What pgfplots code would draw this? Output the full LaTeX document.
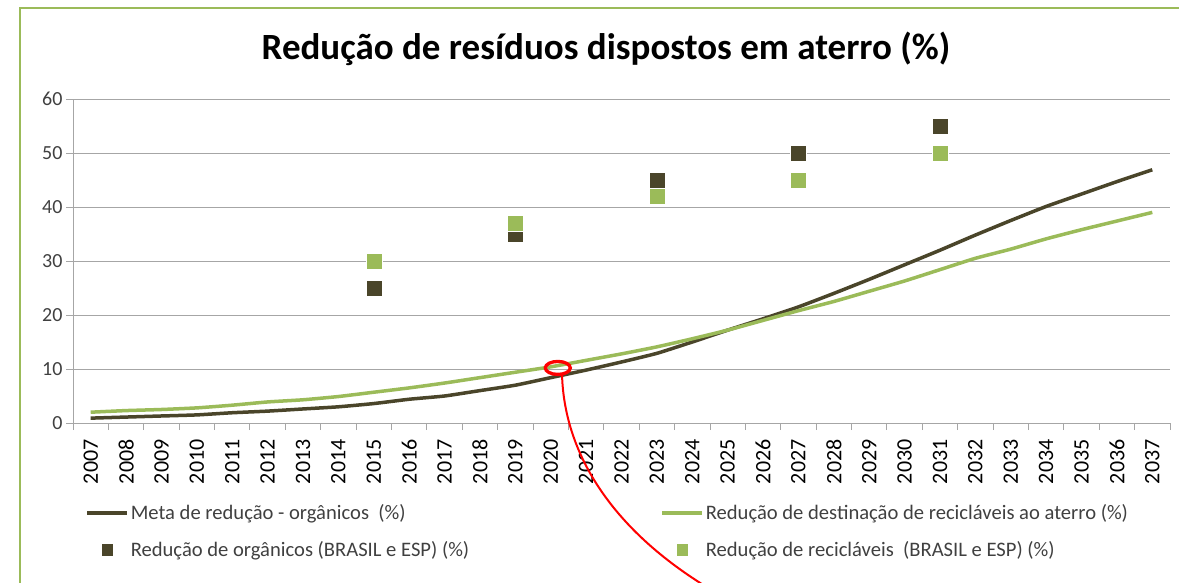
\documentclass[border=0pt]{standalone}
\usepackage{pgfplots}
\pgfplotsset{compat=1.18}
\usepackage{fontspec}
\setmainfont{Carlito}
\definecolor{darkol}{HTML}{4A452A}
\definecolor{olgreen}{HTML}{9BBB59}
\definecolor{gridgray}{HTML}{A6A6A6}
\definecolor{txtgray}{HTML}{404040}
\begin{document}
\begin{tikzpicture}[x=1pt,y=1pt]
\useasboundingbox (0,0) rectangle (1179,582);
\draw[olgreen, line width=1.8pt] (20,-2) -- (20,574) -- (1181,574);
\node[font=\fontsize{37}{42}\selectfont\bfseries] at (606,533) {Redução de resíduos dispostos em aterro (\%)};
\begin{axis}[
  at={(73pt,159pt)}, anchor=south west,
  scale only axis, width=1097pt, height=324pt,
  xmin=-0.5, xmax=30.5, ymin=0, ymax=60,
  axis lines*=left,
  axis line style={gridgray, line width=0.9pt},
  ytick={0,10,...,60},
  ymajorgrids, grid style={gridgray, line width=0.9pt},
  xtick={0,...,30},
  xticklabels={2007,2008,2009,2010,2011,2012,2013,2014,2015,2016,2017,2018,2019,2020,2021,2022,2023,2024,2025,2026,2027,2028,2029,2030,2031,2032,2033,2034,2035,2036,2037},
  minor xtick={-0.5,0.5,...,30.5},
  tick align=outside, major tick length=7pt, minor tick length=7pt,
  tick style={gridgray, line width=0.9pt},
  major x tick style={draw=none},
  xticklabel shift=6pt,
  xticklabel style={rotate=90, anchor=east, font=\fontsize{22}{24}\selectfont, text=black},
  yticklabel style={font=\fontsize{20}{22}\selectfont, text=txtgray},
  /pgf/number format/assume math mode=true,
  legend columns=2,
  legend cell align=left,
  legend style={at={(axis description cs:0.011,-0.245)}, anchor=north west, draw=none, fill=none, inner sep=0pt,
    font=\fontsize{20.6}{24}\selectfont, text=txtgray, row sep=16pt,
    /tikz/every even column/.append style={column sep=189pt}},
]
\addplot[darkol, line width=3.5pt, no markers, smooth, tension=0.3,
  legend image code/.code={\draw[darkol, line width=3.5pt] (0pt,0pt) -- (40pt,0pt);}]
  coordinates {(0,0.9)(1,1.1)(2,1.3)(3,1.5)(4,1.9)(5,2.2)(6,2.6)(7,3.0)(8,3.6)(9,4.4)(10,5.0)(11,6.0)(12,7.0)(13,8.4)(14,9.8)(15,11.3)(16,12.9)(17,15.0)(18,17.2)(19,19.3)(20,21.5)(21,24.0)(22,26.6)(23,29.3)(24,32.0)(25,34.8)(26,37.5)(27,40.1)(28,42.4)(29,44.7)(30,46.9)};
\addlegendentry{Meta de redução - orgânicos\ \ (\%)}
\addplot[olgreen, line width=3.5pt, no markers, smooth, tension=0.3,
  legend image code/.code={\draw[olgreen, line width=3.5pt] (0pt,0pt) -- (40pt,0pt);}]
  coordinates {(0,2.0)(1,2.3)(2,2.5)(3,2.8)(4,3.3)(5,3.9)(6,4.3)(7,4.9)(8,5.7)(9,6.5)(10,7.4)(11,8.4)(12,9.4)(13,10.4)(14,11.6)(15,12.8)(16,14.1)(17,15.6)(18,17.2)(19,19.0)(20,20.8)(21,22.5)(22,24.4)(23,26.3)(24,28.4)(25,30.5)(26,32.2)(27,34.1)(28,35.8)(29,37.4)(30,39.0)};
\addlegendentry{Redução de destinação de recicláveis ao aterro (\%)}
\addplot[only marks, mark=square*, mark size=8pt, draw=white, line width=0.4pt, fill=darkol,
  legend image code/.code={\path[fill=darkol] (14pt,-6.5pt) rectangle (26.5pt,6pt);}]
  coordinates {(8,25)(12,35)(16,45)(20,50)(24,55)};
\addlegendentry{Redução de orgânicos (BRASIL e ESP) (\%)}
\addplot[only marks, mark=square*, mark size=8pt, draw=white, line width=0.4pt, fill=olgreen,
  legend image code/.code={\path[fill=olgreen] (14pt,-6.5pt) rectangle (26.5pt,6pt);}]
  coordinates {(8,30)(12,37)(16,42)(20,45)(24,50)};
\addlegendentry{Redução de recicláveis\ \ (BRASIL e ESP) (\%)}
\draw[red, line width=3.3pt] (axis cs:13.2,10.2) ellipse [x radius=12.5pt, y radius=6.5pt];
\end{axis}
\draw[red, line width=2pt] (562,208) .. controls (564,130) and (610,55) .. (705,-4);
\end{tikzpicture}
\end{document}
